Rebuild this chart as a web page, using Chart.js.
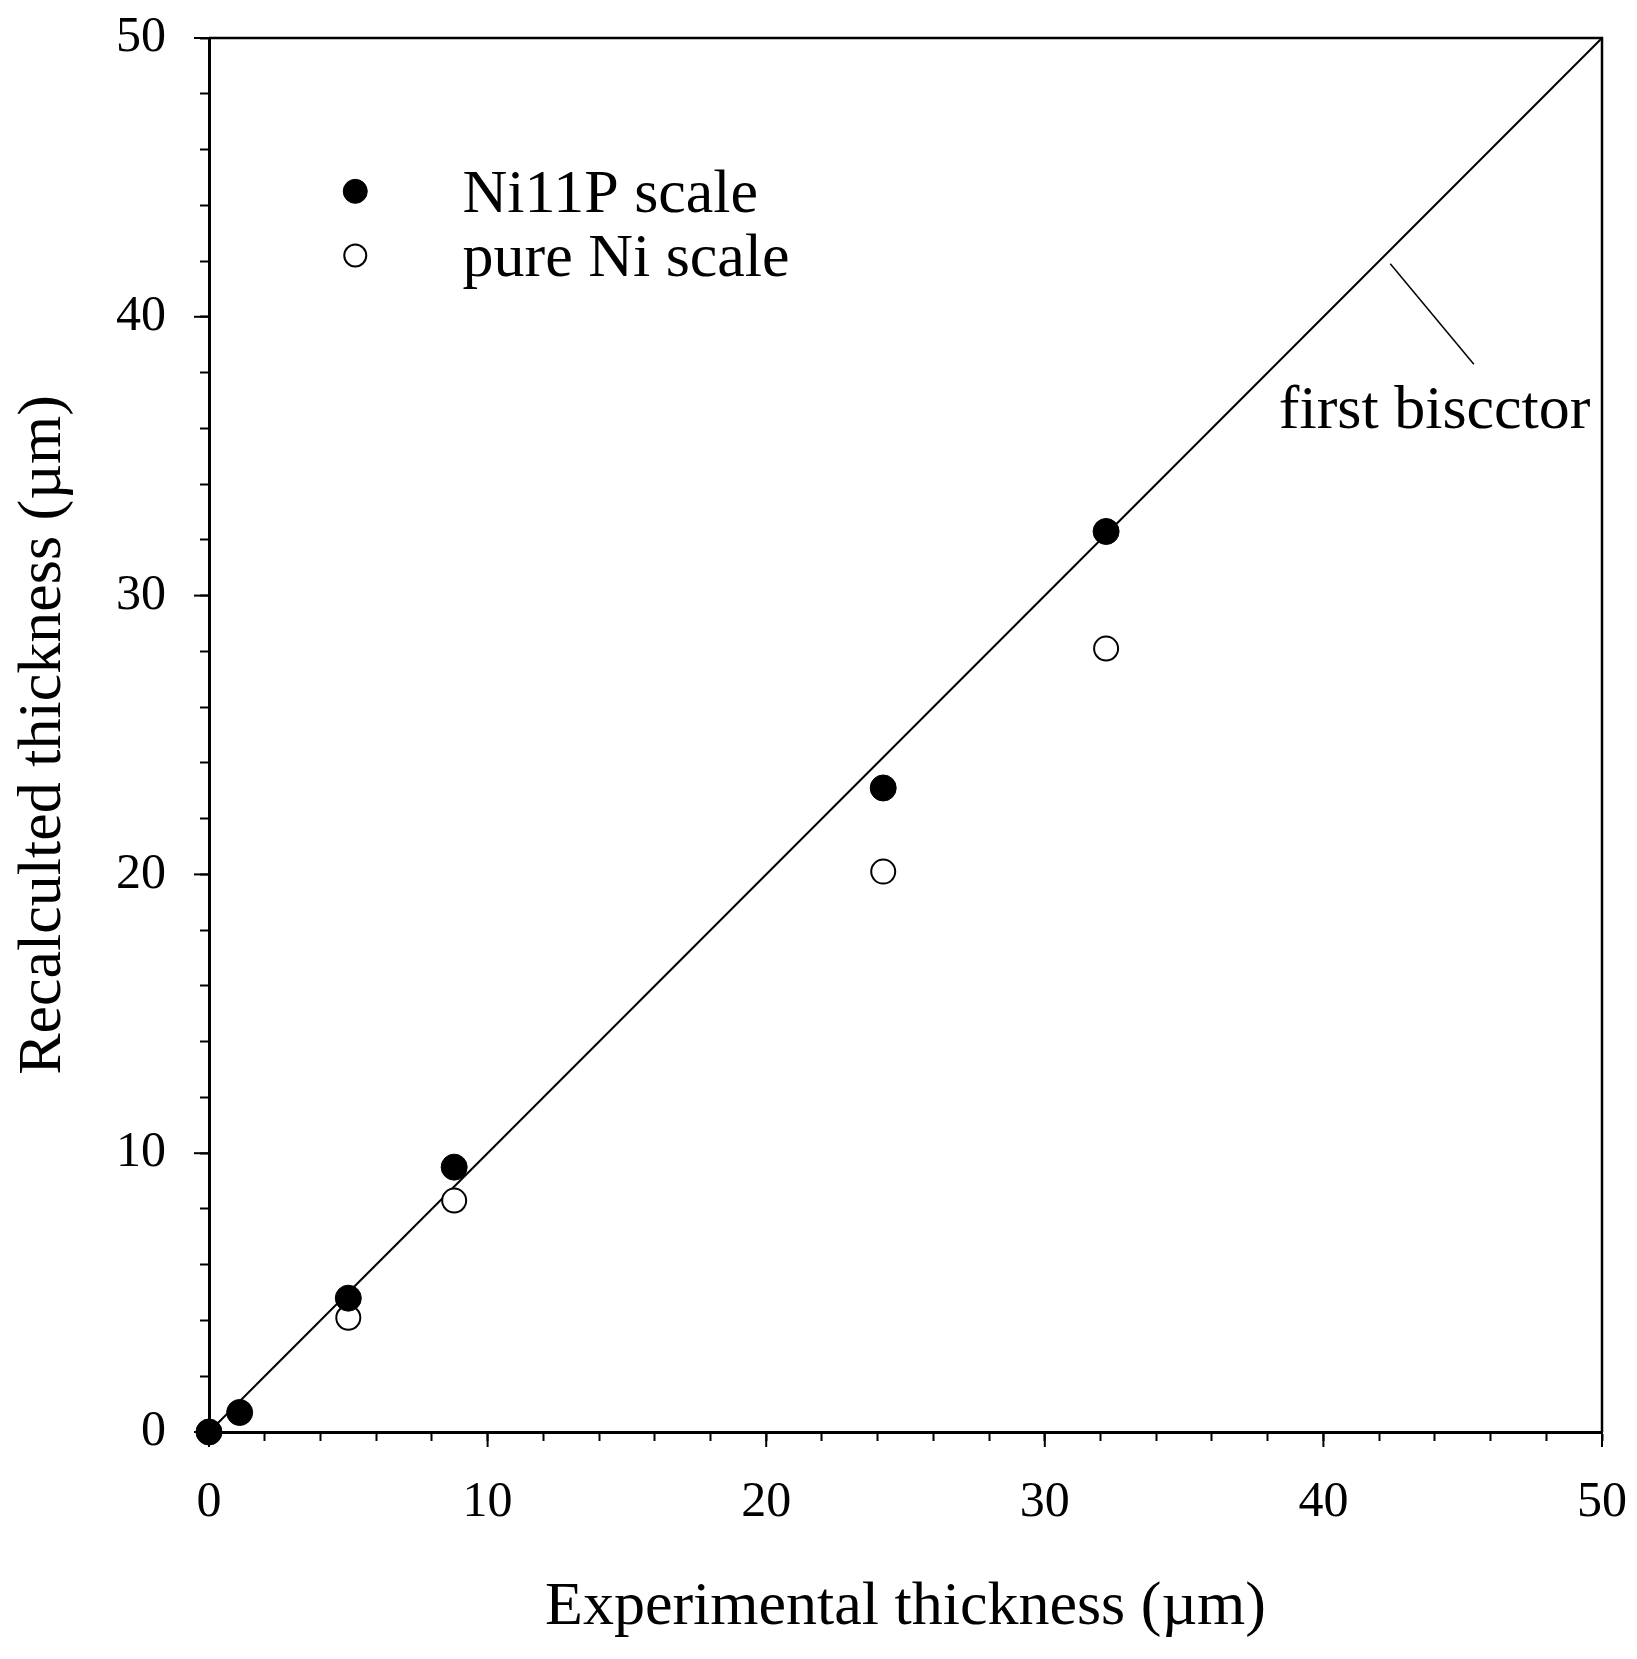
<!DOCTYPE html>
<html>
<head>
<meta charset="utf-8">
<script src="https://cdn.jsdelivr.net/npm/chart.js@4.4.1/dist/chart.umd.min.js"></script>
<style>
body { margin: 0; background: #fff; }
#wrap { width: 1637px; height: 1659px; }
</style>
</head>
<body>
<div id="wrap"><canvas id="thicknessChart" width="1637" height="1659"></canvas></div>
<script>
// values (um)
var expNi11P = [0, 1.1, 5.0, 8.8, 24.2, 32.2];
var recalcNi11P = [0, 0.7, 4.8, 9.5, 23.1, 32.3];
var expPureNi = [5.0, 8.8, 24.2, 32.2];
var recalcPureNi = [4.1, 8.3, 20.1, 28.1];
var bisectorX = [0, 50];
var bisectorY = [0, 50];
var majorTicks = [0, 10, 20, 30, 40, 50];
var seriesNames = ['Ni11P scale', 'pure Ni scale'];
var noteText = 'first biscctor';

var FONT = "'Liberation Serif', 'Times New Roman', serif";

function toPoints(xs, ys) {
  return xs.map(function (x, i) { return { x: x, y: ys[i] }; });
}

// frame, longer major ticks, legend and the bisector note
var extras = {
  id: 'extras',
  afterDraw: function (chart) {
    var ctx = chart.ctx;
    var a = chart.chartArea;
    var xs = chart.scales.x, ys = chart.scales.y;
    ctx.save();
    ctx.strokeStyle = '#000';
    ctx.lineWidth = 2.5;
    ctx.beginPath();
    ctx.moveTo(a.left, a.top);
    ctx.lineTo(a.right, a.top);
    ctx.lineTo(a.right, a.bottom);
    ctx.stroke();

    ctx.lineWidth = 2;
    majorTicks.forEach(function (v) {
      var px = xs.getPixelForValue(v);
      ctx.beginPath();
      ctx.moveTo(px, a.bottom);
      ctx.lineTo(px, a.bottom + 15);
      ctx.stroke();
      var py = ys.getPixelForValue(v);
      ctx.beginPath();
      ctx.moveTo(a.left - 15, py);
      ctx.lineTo(a.left, py);
      ctx.stroke();
    });

    // leader line + label
    ctx.lineWidth = 1.5;
    ctx.beginPath();
    ctx.moveTo(xs.getPixelForValue(42.4), ys.getPixelForValue(41.9));
    ctx.lineTo(xs.getPixelForValue(45.4), ys.getPixelForValue(38.3));
    ctx.stroke();
    ctx.fillStyle = '#000';
    ctx.font = '62px ' + FONT;
    ctx.textAlign = 'left';
    ctx.textBaseline = 'alphabetic';
    ctx.fillText(noteText, xs.getPixelForValue(38.4), ys.getPixelForValue(36.0));

    // legend
    var lx = xs.getPixelForValue(5.25);
    var tx = xs.getPixelForValue(9.1);
    var rows = [ys.getPixelForValue(44.5), ys.getPixelForValue(42.2)];
    rows.forEach(function (py, i) {
      var ds = chart.data.datasets[i];
      ctx.beginPath();
      ctx.arc(lx, py, i === 0 ? 12 : 11, 0, Math.PI * 2);
      ctx.fillStyle = ds.pointBackgroundColor;
      ctx.fill();
      ctx.lineWidth = ds.pointBorderWidth;
      ctx.strokeStyle = '#000';
      ctx.stroke();
      ctx.fillStyle = '#000';
      ctx.font = '62px ' + FONT;
      ctx.fillText(seriesNames[i], tx, py + 21);
    });
    ctx.restore();
  }
};

var ctx = document.getElementById('thicknessChart').getContext('2d');
var chart = new Chart(ctx, {
  type: 'scatter',
  data: {
    datasets: [{
      label: seriesNames[0],
      data: toPoints(expNi11P, recalcNi11P),
      pointRadius: 13,
      pointBackgroundColor: '#000',
      pointBorderColor: '#000',
      pointBorderWidth: 1,
      clip: false
    }, {
      label: seriesNames[1],
      data: toPoints(expPureNi, recalcPureNi),
      pointRadius: 12,
      pointBackgroundColor: '#fff',
      pointBorderColor: '#000',
      pointBorderWidth: 2,
      clip: false
    }, {
      type: 'line',
      label: 'first bisector',
      data: toPoints(bisectorX, bisectorY),
      borderColor: '#000',
      borderWidth: 2,
      pointRadius: 0,
      fill: false
    }]
  },
  options: {
    responsive: false,
    animation: false,
    devicePixelRatio: 1,
    layout: { padding: { top: 38, right: 35, left: 0, bottom: 0 } },
    plugins: { legend: { display: false }, tooltip: { enabled: false } },
    scales: {
      x: {
        type: 'linear', min: 0, max: 50,
        afterFit: function (s) {
          s.height = 227;
          s.paddingLeft = 0; s.paddingRight = 0;
        },
        border: { display: true, color: '#000', width: 3 },
        grid: { drawOnChartArea: false, drawTicks: true, tickLength: 9, tickWidth: 2, tickColor: '#000' },
        ticks: {
          stepSize: 2, autoSkip: false, maxRotation: 0, padding: 32, color: '#000',
          font: { family: FONT, size: 50 },
          callback: function (v) { return v % 10 === 0 ? v : ''; }
        },
        title: {
          display: true, text: 'Experimental thickness (\u00b5m)', color: '#000',
          font: { family: FONT, size: 62 }, padding: { top: 0, bottom: 14 }
        }
      },
      y: {
        type: 'linear', min: 0, max: 50,
        afterFit: function (s) {
          s.width = 209;
          s.paddingTop = 0; s.paddingBottom = 0;
        },
        border: { display: true, color: '#000', width: 3 },
        grid: { drawOnChartArea: false, drawTicks: true, tickLength: 9, tickWidth: 2, tickColor: '#000' },
        ticks: {
          stepSize: 2, autoSkip: false, padding: 34, color: '#000',
          font: { family: FONT, size: 50 },
          callback: function (v) { return v % 10 === 0 ? v : ''; }
        },
        title: {
          display: true, text: 'Recalculted thickness (\u00b5m)', color: '#000',
          font: { family: FONT, size: 62 }, padding: { top: 7, bottom: 0 }
        }
      }
    }
  },
  plugins: [extras]
});
</script>
</body>
</html>
